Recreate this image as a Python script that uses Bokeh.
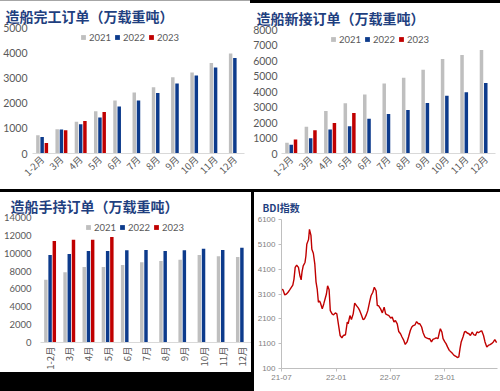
import math
import pandas as pd
from bokeh.plotting import figure
from bokeh.models import ColumnDataSource, FactorRange, Range1d, FixedTicker, Div, DatetimeTickFormatter
from bokeh.layouts import row, column
from bokeh.transform import dodge
from bokeh.embed import file_html
from bokeh.resources import INLINE

# ---------------- data ----------------
months = ["1-2月", "3月", "4月", "5月", "6月", "7月", "8月", "9月", "10月", "11月", "12月"]
years = ["2021", "2022", "2023"]

completed_2021 = [720, 960, 1260, 1680, 2100, 2420, 2630, 3030, 3210, 3590, 3970]
completed_2022 = [650, 950, 1160, 1430, 1870, 2100, 2400, 2780, 3100, 3410, 3790]
completed_2023 = [420, 920, 1290, 1650]

new_2021 = [690, 1720, 2750, 3240, 3800, 4510, 4890, 5410, 6090, 6350, 6670]
new_2022 = [560, 990, 1550, 1760, 2250, 2550, 2810, 3260, 3730, 3950, 4550]
new_2023 = [900, 1500, 1970, 2620]

hand_2021 = [7040, 7860, 8450, 8450, 8680, 8980, 9130, 9270, 9800, 9650, 9570]
hand_2022 = [9800, 9910, 10240, 10240, 10320, 10350, 10240, 10320, 10500, 10350, 10620]
hand_2023 = [11360, 11510, 11510, 11810]

completed_ticks = [0, 1000, 2000, 3000, 4000, 5000]
new_ticks = [0, 1000, 2000, 3000, 4000, 5000, 6000, 7000, 8000]
hand_ticks = [0, 2000, 4000, 6000, 8000, 10000, 12000, 14000]

bdi_dates = ["2021-07-01","2021-07-06","2021-07-12","2021-07-17","2021-07-23","2021-07-28",
"2021-08-03","2021-08-08","2021-08-12","2021-08-16","2021-08-21","2021-08-27",
"2021-09-01","2021-09-05","2021-09-08","2021-09-12","2021-09-18","2021-09-21","2021-09-24","2021-09-30",
"2021-10-03","2021-10-08","2021-10-11","2021-10-16","2021-10-21","2021-10-25","2021-10-29",
"2021-11-02","2021-11-06","2021-11-09","2021-11-15","2021-11-20","2021-11-26","2021-11-29",
"2021-12-03","2021-12-08","2021-12-12","2021-12-18","2021-12-23","2021-12-29",
"2022-01-03","2022-01-09","2022-01-14","2022-01-20","2022-01-25",
"2022-02-01","2022-02-07","2022-02-10","2022-02-16","2022-02-21","2022-02-27",
"2022-03-04","2022-03-10","2022-03-16","2022-03-21","2022-03-26",
"2022-04-01","2022-04-06","2022-04-12","2022-04-17","2022-04-23","2022-04-28",
"2022-05-04","2022-05-09","2022-05-15","2022-05-19","2022-05-23","2022-05-30",
"2022-06-05","2022-06-11","2022-06-16","2022-06-22","2022-06-27",
"2022-07-03","2022-07-08","2022-07-14","2022-07-19","2022-07-25","2022-07-30",
"2022-08-05","2022-08-10","2022-08-16","2022-08-21","2022-08-27",
"2022-09-01","2022-09-07","2022-09-12","2022-09-17","2022-09-23","2022-09-28",
"2022-10-04","2022-10-09","2022-10-15","2022-10-20","2022-10-26","2022-10-31",
"2022-11-06","2022-11-11","2022-11-17","2022-11-22","2022-11-28",
"2022-12-03","2022-12-09","2022-12-14","2022-12-17","2022-12-22","2022-12-26",
"2023-01-01","2023-01-05","2023-01-10","2023-01-16","2023-01-21","2023-01-27",
"2023-02-01","2023-02-07","2023-02-12","2023-02-17","2023-02-21","2023-02-25",
"2023-03-03","2023-03-08","2023-03-12","2023-03-17","2023-03-23","2023-03-28",
"2023-04-03","2023-04-08","2023-04-14","2023-04-19","2023-04-24","2023-04-30",
"2023-05-05","2023-05-11","2023-05-16","2023-05-22","2023-05-27",
"2023-06-02","2023-06-07","2023-06-13","2023-06-18","2023-06-24"]
bdi_values = [3300,3270,3060,3090,3170,3260,
3370,3460,3700,4170,4260,4170,
3830,3670,3990,4230,4370,4630,5100,5300,
5700,5460,4900,4740,4300,3590,3300,
2770,2820,2740,2500,2700,2970,3100,
3430,3270,2430,2300,2260,2340,
2300,1830,1430,1330,1430,
1460,1970,1900,2230,2070,2300,
2730,2630,2540,2430,2270,
2070,2100,2260,2430,2770,3030,
3170,3370,3230,2630,2630,2500,
2340,2570,2300,2260,2230,
2130,2170,1970,2030,1900,1590,
1500,1370,1230,1070,1170,
1370,1630,1770,1830,1860,1990,
1900,1900,1770,1540,1370,1330,
1300,1300,1170,1270,1300,
1330,1300,1570,1700,1570,1300,
1170,1100,970,830,770,700,
630,590,540,570,900,1170,
1370,1570,1590,1530,1500,1430,
1570,1460,1430,1570,1540,1590,
1620,1430,1170,970,1030,
1060,1100,1170,1260,1140]
bdi_ticks = [100, 1100, 2100, 3100, 4100, 5100, 6100]
bdi_xticks = ["2021-07-01", "2022-01-01", "2022-07-01", "2023-01-01"]

# ---------------- style ----------------
C21, C22, C23 = "#BFBFBF", "#0D3B8C", "#C00000"
TITLE_C = "#1F3F80"
LBL_C = "#595959"
NUM_FONT = "Lato"
CJK_FONT = "Noto Sans CJK SC"


def bar_chart(width, height, title, s21, s22, s23, ticks, ymax, borders, orient,
              legend_xy, title_offset, title_standoff, ylab_size, ylab_standoff):
    left, right, top, bottom = borders
    p = figure(width=width, height=height, x_range=FactorRange(factors=months),
               y_range=Range1d(0, ymax), output_backend="svg", toolbar_location=None,
               min_border_left=left, min_border_right=right,
               min_border_top=top, min_border_bottom=bottom)
    offs = [-0.22, 0.0, 0.22]
    for yr, vals, col, off in zip(years, [s21, s22, s23], [C21, C22, C23], offs):
        src = ColumnDataSource(dict(month=months[:len(vals)], v=vals))
        p.vbar(x=dodge("month", off, range=p.x_range), top="v", width=0.18,
               source=src, fill_color=col, line_color=None, legend_label=yr)
    p.title.text = title
    p.title.text_font = CJK_FONT
    p.title.text_font_size = "14px"
    p.title.text_font_style = "bold"
    p.title.text_color = TITLE_C
    p.title.align = "left"
    p.title.offset = title_offset
    p.title.standoff = title_standoff
    p.xgrid.visible = False
    p.ygrid.visible = False
    p.outline_line_color = None
    p.yaxis.ticker = FixedTicker(ticks=ticks)
    p.yaxis.axis_line_color = None
    p.yaxis.major_tick_line_color = None
    p.yaxis.minor_tick_line_color = None
    p.yaxis.major_tick_out = 0
    p.yaxis.major_label_text_color = LBL_C
    p.yaxis.major_label_text_font = NUM_FONT
    p.yaxis.major_label_text_font_size = ylab_size
    p.yaxis.major_label_standoff = ylab_standoff
    p.xaxis.axis_line_color = "#D9D9D9"
    p.xaxis.major_tick_line_color = None
    p.xaxis.minor_tick_line_color = None
    p.xaxis.major_tick_out = 0
    p.xaxis.major_label_orientation = orient
    p.xaxis.major_label_text_color = LBL_C
    p.xaxis.major_label_text_font = CJK_FONT
    p.xaxis.major_label_text_font_size = "9.5px"
    p.xaxis.major_label_standoff = 4
    lg = p.legend[0]
    lg.orientation = "horizontal"
    lg.location = legend_xy
    lg.border_line_color = None
    lg.background_fill_alpha = 0
    lg.padding = 0
    lg.margin = 0
    lg.glyph_width = 6
    lg.glyph_height = 6
    lg.label_standoff = 3
    lg.spacing = 3
    lg.label_text_font = NUM_FONT
    lg.label_text_font_size = "9.5px"
    lg.label_text_color = LBL_C
    lg.label_height = 12
    return p


p_tl = bar_chart(250, 188, "造船完工订单（万载重吨）", completed_2021, completed_2022, completed_2023,
                 completed_ticks, 5000, (32, 6, 25, 36), math.pi / 4, (48, 110), -27, 4,
                 "10.5px", 5)
p_tr = bar_chart(250, 186, "造船新接订单（万载重吨）", new_2021, new_2022, new_2023,
                 new_ticks, 8000, (31, 5, 25, 36), math.pi / 4, (49, 108), -25, 4,
                 "10.5px", 4)
p_bl = bar_chart(251, 180, "造船手持订单（万载重吨）", hand_2021, hand_2022, hand_2023,
                 hand_ticks, 14000, (37, 0, 24, 30), math.pi / 2, (45, 109), -30, 3,
                 "9.5px", 9)

# BDI line chart
bdi_src = ColumnDataSource(dict(d=pd.to_datetime(bdi_dates), v=bdi_values))
p_br = figure(width=246, height=199, x_axis_type="datetime",
              x_range=Range1d(pd.Timestamp("2021-07-01"), pd.Timestamp("2023-06-27")),
              y_range=Range1d(100, 6100), output_backend="svg", toolbar_location=None,
              min_border_left=23, min_border_right=3, min_border_top=26, min_border_bottom=23)
p_br.line("d", "v", source=bdi_src, line_color="#C00000", line_width=1.4)
p_br.title.text = "BDI指数"
p_br.title.text_font = CJK_FONT
p_br.title.text_font_size = "10px"
p_br.title.text_font_style = "bold"
p_br.title.text_color = TITLE_C
p_br.title.align = "left"
p_br.title.offset = -19
p_br.title.standoff = 10
p_br.xgrid.visible = False
p_br.ygrid.visible = False
p_br.outline_line_color = None
p_br.yaxis.ticker = FixedTicker(ticks=bdi_ticks)
p_br.xaxis.ticker = FixedTicker(ticks=[pd.Timestamp(t).value / 1e6 for t in bdi_xticks])
p_br.xaxis.formatter = DatetimeTickFormatter(days="%y-%m", months="%y-%m", years="%y-%m")
for ax in (p_br.xaxis, p_br.yaxis):
    ax.axis_line_color = "#BFBFBF"
    ax.major_tick_line_color = "#BFBFBF"
    ax.major_tick_out = 3
    ax.major_tick_in = 0
    ax.minor_tick_line_color = None
    ax.major_label_text_color = "#7F7F7F"
    ax.major_label_text_font = "Liberation Sans"
    ax.major_label_text_font_size = "8px"
    ax.major_label_standoff = 3

# ---------------- layout ----------------
def bar(w, h, color):
    return Div(width=w, height=h, margin=0, styles={"background-color": color})

top_left = column(bar(250, 1, "#A6A6A6"), p_tl, spacing=0)
top_right = column(bar(250, 3, "#000000"), p_tr, spacing=0)
bottom_left = column(p_bl, bar(251, 19, "#000000"), spacing=0)
layout = column(
    row(top_left, top_right, spacing=0),
    bar(500, 3, "#000000"),
    row(bottom_left, bar(3, 199, "#000000"), p_br, spacing=0),
    spacing=0,
)

open("out.html", "w").write(file_html(layout, INLINE))
